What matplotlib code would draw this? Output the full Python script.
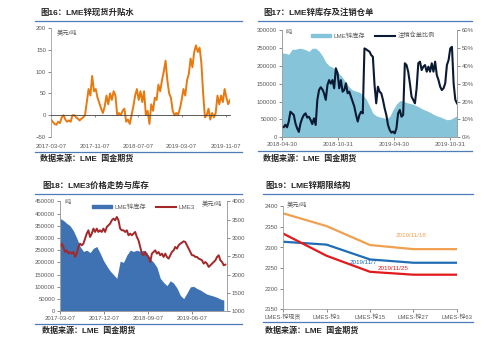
import matplotlib
matplotlib.use("Agg")
import matplotlib.pyplot as plt
import matplotlib.dates as mdates
from matplotlib.lines import Line2D
from matplotlib.patches import Patch
from matplotlib.ticker import PercentFormatter
import pandas as pd

plt.rcParams['font.family'] = ['Liberation Sans', 'Noto Sans CJK SC', 'DejaVu Sans']

# ---- data: fig16 spot premium (USD/t), every 10 days from 2017-03-07
spread = [-10, -15, -20, -22, -15, -18, -5, 0, -10, -15,
          -12, -15, 0, 0, -5, -8, -12, -8, -5, 0,
          30, 60, 45, 90, 55, 60, 40, 28, 15, 5,
          20, 45, 25, 50, 35, 55, 45, 0, 5, 0,
          10, 15, -15, -10, -20, 0, 20, 45, 60, 35,
          55, 30, 55, 0, 10, -20, 25, 10, 40, 35,
          70, 55, 80, 100, 125, 80, 50, 40, 10, 0,
          5, 0, 15, 35, 60, 45, 80, 95, 130, 110,
          145, 160, 145, 155, 120, 50, -5, 0, 15, -10,
          5, -5, 5, 45, 25, 45, 30, 60, 40, 25, 35]

# ---- fig17 LME stock (kt) and cancelled warrant ratio (%)
stock17 = [236, 235, 232, 246, 246, 249, 248, 245, 240, 249,
           249, 241, 228, 210, 200, 196, 188, 178, 167, 153,
           140, 132, 129, 126, 118, 107, 88, 68, 60, 57,
           55, 52, 58, 77, 93, 102, 102, 97, 95, 92,
           88, 83, 78, 74, 70, 64, 60, 57, 53, 49, 50, 55, 60]
cw_ratio = [6, 5.6, 7, 5.6, 8.8, 14.3, 13.4, 12.5, 7.8, 5,
            3, 7.8, 10.6, 12.5, 13.4, 11, 11.5, 9.7, 7.4, 10.6,
            6.9, 20.9, 26.4, 28, 26.8, 24.6, 20.9, 29.2, 32, 30,
            32, 27.4, 38.6, 36, 27.4, 32, 25.5, 26.4, 30.2, 24.6,
            25.5, 22.7, 19.9, 17.1, 12.5, 8.8, 12.5, 14.3, 13.4, 49.7,
            49.2, 48.5, 47.9, 46, 45, 29.2, 19, 28.3, 25.5, 24.6,
            20.9, 16.2, 12.5, 6.9, 4.1, 2.6, 3.2, 2.2, 5, 13.4,
            15.3, 11.5, 12.5, 41.4, 40.4, 36.7, 30.2, 22.7, 20.9, 19,
            27.4, 41.4, 42.3, 37.6, 39.5, 40.4, 36.7, 39.5, 36.7, 41.4,
            36.7, 42.3, 34.8, 32, 28.3, 26.4, 27.4, 30.2, 40.4, 43.2,
            49.7, 50.6, 30, 21, 19]

# ---- fig18 LME stock (kt) and LME3 price (USD/t)
stock18 = [380, 372, 360, 350, 330, 300, 265, 245, 250, 240,
           258, 265, 238, 208, 185, 165, 150, 135, 205, 200,
           230, 250, 245, 250, 245, 250, 240, 215, 200, 180,
           135, 118, 105, 125, 115, 95, 65, 52, 75, 100,
           102, 93, 87, 78, 70, 66, 62, 57, 50, 46]
lme3 = [2755, 2845, 2755, 2618, 2664, 2573, 2618, 2573, 2618, 2482,
        2573, 2755, 2845, 2800, 2845, 2982, 3118, 3209, 3027, 3118,
        3255, 3164, 3255, 3164, 3209, 3164, 3255, 3164, 3300, 3345,
        3391, 3482, 3527, 3482, 3573, 3482, 3255, 3209, 3209, 3164,
        3209, 3073, 3118, 3073, 3118, 3164, 3027, 2936, 2755, 2573,
        2527, 2618, 2527, 2482, 2345, 2573, 2618, 2664, 2573, 2618,
        2527, 2573, 2482, 2573, 2482, 2436, 2527, 2618, 2664, 2755,
        2709, 2800, 2845, 2873, 2909, 2891, 2800, 2709, 2618, 2527,
        2527, 2482, 2482, 2436, 2418, 2391, 2300, 2345, 2300, 2209,
        2255, 2300, 2345, 2391, 2482, 2527, 2391, 2345, 2255, 2273]

# ---- fig19 term structure
tenors = ['LMES-锌现货', 'LMES-锌3', 'LMES-锌15', 'LMES-锌27', 'LMES-锌63']
curve_1118 = [2383, 2352, 2306, 2296, 2296]
curve_1107 = [2314, 2307, 2271, 2263, 2263]
curve_1125 = [2334, 2280, 2241, 2234, 2234]

TICK = '#595959'
SPINE = '#a0a0a0'
BLUE_LINE = '#4f7cb8'

fig = plt.figure(figsize=(5.0, 3.44), dpi=100)
W, H = 500.0, 344.0


def fx(x):
    return x / W


def fy(y):
    return 1 - y / H


def frame(title, x_text, x0, x1, y_title, y_line1, y_line2, y_src):
    fig.text(fx(x_text), fy(y_title), title, fontsize=6.0, fontweight='bold',
             color='#262626', va='center', ha='left')
    for yl in (y_line1, y_line2):
        fig.add_artist(Line2D([fx(x0), fx(x1)], [fy(yl), fy(yl)],
                              transform=fig.transFigure, color=BLUE_LINE, lw=0.9))
    fig.text(fx(x_text), fy(y_src), '数据来源：LME  国金期货', fontsize=5.8,
             fontweight='bold', color='#262626', va='center', ha='left')


def style(ax):
    ax.tick_params(labelsize=4.3, colors=TICK, length=2, width=0.5, pad=1.5)
    for s in ax.spines.values():
        s.set_color(SPINE)
        s.set_linewidth(0.6)
    ax.set_facecolor('none')


def axes_px(l, r, t, b):
    return fig.add_axes([fx(l), fy(b), fx(r - l), (b - t) / H])


# ---------------- fig16
frame('图16：LME锌现货升贴水', 40, 35, 242, 12.5, 20.7, 151.7, 158.5)
ax1 = axes_px(51, 230, 28, 137)
d1 = pd.date_range('2017-03-07', periods=len(spread), freq='10D')
ax1.plot(d1, spread, color='#e8790f', lw=1.4)
ax1.set_ylim(-50, 200)
ax1.set_yticks([-50, 0, 50, 100, 150, 200])
ax1.set_xlim(d1[0], d1[-1])
ax1.set_xticks(pd.to_datetime(['2017-03-07', '2017-11-07', '2018-07-07',
                               '2019-03-07', '2019-11-07']))
ax1.xaxis.set_major_formatter(mdates.DateFormatter('%Y-%m-%d'))
style(ax1)
ax1.spines['top'].set_visible(False)
ax1.spines['right'].set_visible(False)
ax1.spines['bottom'].set_position(('data', 0))
ax1.spines['bottom'].set_color('#404040')
ax1.tick_params(axis='x', pad=19, length=1.5)
ax1.text(0.03, 0.955, '美元/吨', transform=ax1.transAxes, fontsize=4.5,
         color=TICK, va='center')

# ---------------- fig17
frame('图17：LME锌库存及注销仓单', 263, 258, 472, 12.5, 20.7, 150.7, 158.5)
ax2 = axes_px(282, 457, 30, 137.3)
d2a = pd.date_range('2018-04-30', '2019-11-22', periods=len(stock17))
d2b = pd.date_range('2018-04-30', '2019-11-22', periods=len(cw_ratio))
ax2.fill_between(d2a, [v * 1000 for v in stock17], color='#86c4da', lw=0)
ax2.set_ylim(0, 300000)
ax2.set_yticks(range(0, 300001, 50000))
ax2.set_xlim(d2a[0], d2a[-1])
ax2.set_xticks(pd.to_datetime(['2018-04-30', '2018-10-31', '2019-04-30', '2019-10-31']))
ax2.xaxis.set_major_formatter(mdates.DateFormatter('%Y-%m-%d'))
style(ax2)
ax2.spines['top'].set_visible(False)
ax2r = ax2.twinx()
ax2r.plot(d2b, cw_ratio, color='#0b1a33', lw=1.5)
ax2r.set_ylim(0, 60)
ax2r.set_yticks(range(0, 61, 10))
ax2r.yaxis.set_major_formatter(PercentFormatter(decimals=0))
style(ax2r)
ax2r.spines['top'].set_visible(False)
ax2.text(0.02, 0.975, '吨', transform=ax2.transAxes, fontsize=4.5, color=TICK, va='center')
ax2r.legend([Patch(color='#86c4da'), Line2D([], [], color='#0b1a33', lw=1.5)],
            ['LME锌库存', '注销仓单比例'], loc='center', bbox_to_anchor=(0.52, 0.95),
            ncol=2, frameon=False, fontsize=4.5, handlelength=3.2, handleheight=0.5,
            columnspacing=1.5, handletextpad=0.4, labelcolor=TICK)

# ---------------- fig18
frame('图18：LME3价格走势与库存', 42, 35, 242, 185.5, 193.5, 323.7, 331)
ax3 = axes_px(60, 227, 201.3, 311.3)
t0 = pd.Timestamp('2017-03-07')
d3a = pd.date_range(t0, t0 + pd.Timedelta(days=1020), periods=len(stock18))
d3b = pd.date_range(t0, t0 + pd.Timedelta(days=1030), periods=len(lme3))
ax3.fill_between(d3a, [v * 1000 for v in stock18], color='#3e72b3', lw=0)
ax3.set_ylim(0, 450000)
ax3.set_yticks(range(0, 450001, 50000))
ax3.set_xlim(t0, t0 + pd.Timedelta(days=1040))
ax3.set_xticks(pd.to_datetime(['2017-03-07', '2017-12-07', '2018-09-07', '2019-06-07']))
ax3.xaxis.set_major_formatter(mdates.DateFormatter('%Y-%m-%d'))
style(ax3)
ax3.spines['top'].set_visible(False)
ax3r = ax3.twinx()
ax3r.plot(d3b, lme3, color='#a3282a', lw=1.4)
ax3r.set_ylim(1000, 4000)
ax3r.set_yticks(range(1000, 4001, 500))
style(ax3r)
ax3r.spines['top'].set_visible(False)
ax3.text(0.03, 0.99, '吨', transform=ax3.transAxes, fontsize=4.5, color=TICK, va='center')
ax3.text(0.91, 0.975, '美元/吨', transform=ax3.transAxes, fontsize=4.5, color=TICK,
         va='center', ha='center')
ax3r.legend([Patch(color='#3e72b3'), Line2D([], [], color='#a3282a', lw=1.5)],
            ['LME锌库存', 'LME3'], loc='center', bbox_to_anchor=(0.5, 0.948),
            ncol=2, frameon=False, fontsize=4.5, handlelength=3.2, handleheight=0.5,
            columnspacing=1.5, handletextpad=0.4, labelcolor=TICK)

# ---------------- fig19
frame('图19：LME锌期限结构', 265, 263, 473, 185.5, 193.7, 322, 331)
ax4 = axes_px(283, 457, 206.3, 309.3)
xs = range(len(tenors))
ax4.plot(xs, curve_1118, color='#f0a050', lw=1.6)
ax4.plot(xs, curve_1107, color='#1f6db3', lw=1.6)
ax4.plot(xs, curve_1125, color='#e3191c', lw=1.6)
ax4.set_xlim(0, len(tenors) - 1)
ax4.set_xticks(list(xs))
ax4.set_xticklabels(tenors)
ax4.set_ylim(2150, 2400)
ax4.set_yticks(range(2150, 2401, 50))
style(ax4)
ax4.spines['top'].set_visible(False)
ax4.spines['right'].set_visible(False)
ax4.text(0.02, 1.01, '美元/吨', transform=ax4.transAxes, fontsize=4.5, color=TICK, va='center')
ax4.text(2.94, 2330, '2019/11/18', fontsize=4.5, color='#f0a050', ha='center', va='center')
ax4.text(1.85, 2263, '2019/11/7', fontsize=4.5, color='#1f6db3', ha='center', va='center')
ax4.text(2.52, 2249, '2019/11/25', fontsize=4.5, color='#e3191c', ha='center', va='center')

fig.savefig('out.png', dpi=100)
